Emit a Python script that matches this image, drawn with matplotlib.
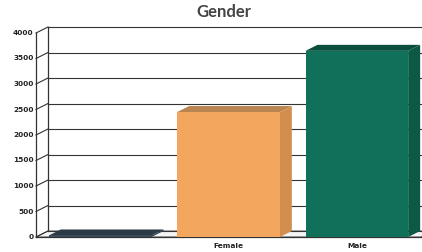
import numpy as np
import matplotlib
matplotlib.use("Agg")
from matplotlib import pyplot as plt
from matplotlib.patches import Polygon

# данные
categories = ["", "Female", "Male"]
counts = [30, 2450, 3650]
front_colors = ["#3b4b5a", "#f2a65e", "#11705a"]
top_colors = ["#2c3a46", "#b98450", "#0d4f3e"]
side_colors = ["#33424f", "#d28e4c", "#0c5a46"]
yticks = np.arange(0, 4001, 500)

W, H, DPI = 422, 252, 100
fig = plt.figure(figsize=(W / DPI, H / DPI), dpi=DPI)

# передняя плоскость осей в пикселях
left_px, right_px = 36, 421
zero_px, top_px = 237, 33
ax = fig.add_axes([left_px / W, (H - zero_px) / H,
                   (right_px - left_px) / W, (zero_px - top_px) / H])
ax.set_xlim(-0.5, 2.5)
ax.set_ylim(0, 4000)
ax.axis("off")

# глубина "3D" в единицах данных
dx_px, dy_px = 12, 6
dx = dx_px * 3.0 / (right_px - left_px)
dy = dy_px * 4000.0 / (zero_px - top_px)
x0, x1 = -0.5, 2.5 + dx
wall = "#333333"

# задняя стенка: линии сетки
for v in yticks:
    ax.plot([x0 + dx, x1], [v + dy, v + dy], color=wall, lw=0.8, clip_on=False)
    ax.plot([x0, x0 + dx], [v, v + dy], color=wall, lw=0.8, clip_on=False)
    ax.text(x0 - 0.02, v, f"{v}", ha="right", va="center", fontsize=5.3,
            fontweight="bold", color="#222222")
# рёбра боковой стенки и пола
ax.plot([x0, x0], [0, 4000], color=wall, lw=0.9, clip_on=False)
ax.plot([x0 + dx, x0 + dx], [dy, 4000 + dy], color=wall, lw=0.9, clip_on=False)
ax.plot([x0, x1 - dx], [0, 0], color=wall, lw=0.9, clip_on=False)
ax.add_patch(Polygon([[x0, 0], [x1 - dx, 0], [x1, dy], [x0 + dx, dy]],
                     closed=True, facecolor="#f4f4f4", edgecolor=wall, lw=0.6,
                     clip_on=False, zorder=1))

# столбцы
bw = 0.8
for i, (c, h) in enumerate(zip(categories, counts)):
    a, b = i - bw / 2, i + bw / 2
    ax.add_patch(Polygon([[a, h], [b, h], [b + dx, h + dy], [a + dx, h + dy]],
                         closed=True, facecolor=top_colors[i], edgecolor="none",
                         clip_on=False, zorder=3))
    ax.add_patch(Polygon([[b, 0], [b + dx, dy], [b + dx, h + dy], [b, h]],
                         closed=True, facecolor=side_colors[i], edgecolor="none",
                         clip_on=False, zorder=3))
    ax.bar(i, h, width=bw, color=front_colors[i], zorder=4, clip_on=False)
    ax.text(i, -110, c, ha="center", va="top", fontsize=5.3,
            fontweight="bold", color="#222222")

fig.text(224 / W, 1 - 12 / H, "Gender", ha="center", va="center",
         fontsize=12, fontweight="bold", family="Lato", color="#444444")

fig.savefig("out.png", dpi=DPI)
